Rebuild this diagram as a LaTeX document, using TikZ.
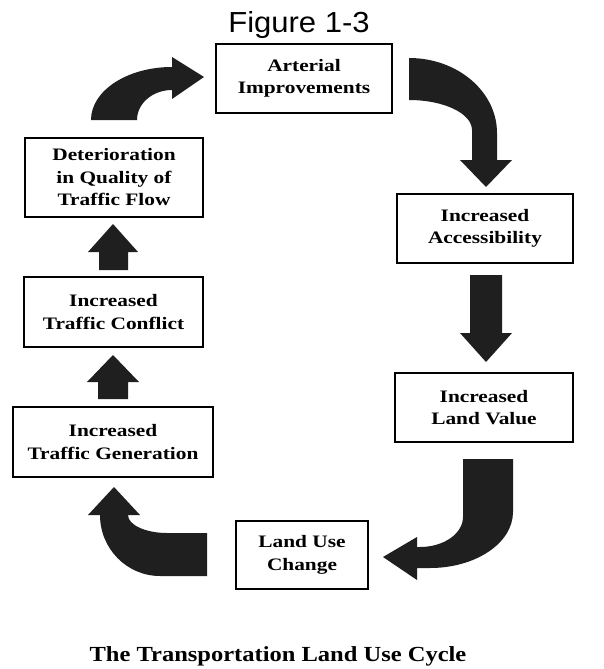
\documentclass[tikz,border=0pt]{standalone}
\usepackage{fontspec}
\newfontfamily\boxfont[FakeStretch=1.22]{Liberation Serif}
\newfontfamily\capfont[FakeStretch=1.14]{Liberation Serif}
\newfontfamily\titlefont[FakeStretch=1.07]{Liberation Sans}
\begin{document}
\begin{tikzpicture}[x=1pt,y=-1pt,
  box/.style={draw=black,line width=1.8pt,fill=white,align=center,inner sep=0pt,
    font=\boxfont\bfseries\fontsize{17.5}{22.5}\selectfont},
  blk/.style={fill=black!88,draw=none}]
\useasboundingbox (0,0) rectangle (603,669);
\fill[white] (0,0) rectangle (603,669);

% title and caption
\node[anchor=base,font=\titlefont\fontsize{29}{34}\selectfont] (title) at (299,33) {Figure 1-3};
\node[anchor=base,font=\capfont\bfseries\fontsize{21.5}{26}\selectfont] (cap) at (278,661) {The Transportation Land Use Cycle};

% boxes
\node[box,minimum width=176pt,minimum height=69pt] (art) at (304,78.5) {Arterial\\Improvements};
\node[box,minimum width=176pt,minimum height=69pt] (acc) at (485,228.5) {Increased\\Accessibility};
\node[box,minimum width=178pt,minimum height=69pt] (lv) at (484,407.5) {Increased\\Land Value};
\node[box,minimum width=132pt,minimum height=68pt] (luc) at (302,555) {Land Use\\Change};
\node[box,minimum width=200pt,minimum height=70pt] (tg) at (113,442) {Increased\\Traffic Generation};
\node[box,minimum width=179pt,minimum height=70pt] (tc) at (113.5,312) {Increased\\Traffic Conflict};
\node[box,minimum width=178pt,minimum height=79pt] (det) at (114,177.5) {Deterioration\\in Quality of\\Traffic Flow};

% curved arrow: Deterioration -> Arterial
\fill[blk] (91,120) .. controls (91,90.7) and (127.3,67) .. (172,67)
  -- (172,57) -- (204,77) -- (172,99) -- (172,90)
  .. controls (152.7,90) and (137,103.4) .. (137,120) -- cycle;

% curved arrow: Arterial -> Accessibility
\fill[blk] (409,58) .. controls (457.6,58) and (497,91.6) .. (497,133)
  -- (497,160) -- (512,160) -- (486,187) -- (460,160) -- (472,160) -- (472,130)
  .. controls (472,113.4) and (443.8,100) .. (409,100) -- cycle;

% straight arrow: Accessibility -> Land Value
\fill[blk] (470,275) -- (502,275) -- (502,333) -- (512,333) -- (486,362)
  -- (460,333) -- (470,333) -- cycle;

% curved arrow: Land Value -> Land Use Change
\fill[blk] (463,459) -- (513,459) -- (513,512)
  .. controls (513,542.9) and (475.8,568) .. (430,568)
  -- (417,568) -- (417,580) -- (383,557) -- (417,537) -- (417,547) -- (420,547)
  .. controls (443.7,547) and (463,533.6) .. (463,517) -- cycle;

% curved arrow: Land Use Change -> Traffic Generation
\fill[blk] (207,533) -- (207,576) -- (160,576)
  .. controls (126.9,576) and (100,548.7) .. (100,515)
  -- (88,515) -- (114,487) -- (140,515) -- (128,515)
  .. controls (128,524.9) and (145.5,533) .. (167,533) -- cycle;

% straight arrow: Traffic Generation -> Traffic Conflict
\fill[blk] (98,399) -- (128,399) -- (128,382) -- (139,382) -- (113,355)
  -- (87,382) -- (98,382) -- cycle;

% straight arrow: Traffic Conflict -> Deterioration
\fill[blk] (99,270) -- (128,270) -- (128,252) -- (138,252) -- (113,224)
  -- (88,252) -- (99,252) -- cycle;
\end{tikzpicture}
\end{document}
